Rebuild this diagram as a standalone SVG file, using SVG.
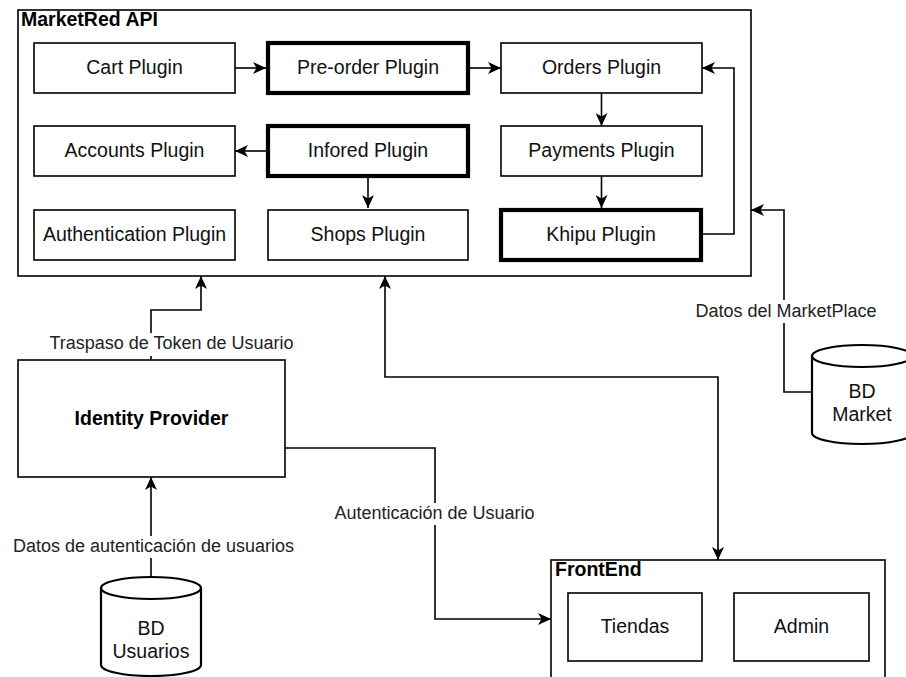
<svg xmlns="http://www.w3.org/2000/svg" width="906" height="677" viewBox="0 0 906 677">
<style>
.box{fill:#fff;stroke:#000;stroke-width:1.6}
.thick{fill:#fff;stroke:#000;stroke-width:4.2}
.cyl{fill:#fff;stroke:#000;stroke-width:2.2}
.t{font-family:"Liberation Sans",Arial,sans-serif;font-size:19.5px;fill:#111;text-anchor:middle}
.b{font-family:"Liberation Sans",Arial,sans-serif;font-size:19.5px;font-weight:bold;fill:#000}
.lbl{font-family:"Liberation Sans",Arial,sans-serif;font-size:18px;fill:#222;text-anchor:middle}
.edge{fill:none;stroke:#000;stroke-width:1.6}
.bg{fill:#fff;stroke:none}
</style>
<defs>
<marker id="arr" markerUnits="userSpaceOnUse" markerWidth="14" markerHeight="12" refX="13" refY="6" orient="auto-start-reverse">
<path d="M0,0 L13,6 L0,12 L3.5,6 Z" fill="#000"/>
</marker>
</defs>

<g id="marketred-api">
<rect class="box" x="18" y="10" width="733" height="266"/>
<text class="b" x="21" y="26">MarketRed API</text>
</g>

<g id="cart-plugin"><rect class="box" x="34" y="43" width="201" height="50"/><text class="t" x="134.5" y="74">Cart Plugin</text></g>
<g id="preorder-plugin"><rect class="thick" x="268" y="43" width="200" height="50"/><text class="t" x="368" y="74">Pre-order Plugin</text></g>
<g id="orders-plugin"><rect class="box" x="501" y="43" width="201" height="50"/><text class="t" x="601.5" y="74">Orders Plugin</text></g>
<g id="accounts-plugin"><rect class="box" x="34" y="126" width="201" height="50"/><text class="t" x="134.5" y="157">Accounts Plugin</text></g>
<g id="infored-plugin"><rect class="thick" x="268" y="126" width="200" height="50"/><text class="t" x="368" y="157">Infored Plugin</text></g>
<g id="payments-plugin"><rect class="box" x="501" y="126" width="201" height="50"/><text class="t" x="601.5" y="157">Payments Plugin</text></g>
<g id="authentication-plugin"><rect class="box" x="34" y="210" width="201" height="50"/><text class="t" x="134.5" y="241">Authentication Plugin</text></g>
<g id="shops-plugin"><rect class="box" x="268" y="210" width="200" height="50"/><text class="t" x="368" y="241">Shops Plugin</text></g>
<g id="khipu-plugin"><rect class="thick" x="501" y="210" width="200" height="50"/><text class="t" x="601" y="241">Khipu Plugin</text></g>

<g id="identity-provider"><rect class="box" x="18" y="360" width="267" height="117"/><text class="b" x="151.5" y="425" text-anchor="middle">Identity Provider</text></g>

<g id="bd-usuarios">
<path class="cyl" d="M101,588 A50,11 0 0 1 201,588 L201,665 A50,11 0 0 1 101,665 Z"/>
<path class="cyl" d="M101,588 A50,11 0 0 0 201,588"/>
<text class="t" x="151" y="635">BD</text>
<text class="t" x="151" y="658">Usuarios</text>
</g>

<g id="bd-market">
<path class="cyl" d="M812,356 A50,11 0 0 1 912,356 L912,433 A50,11 0 0 1 812,433 Z"/>
<path class="cyl" d="M812,356 A50,11 0 0 0 912,356"/>
<text class="t" x="862" y="398">BD</text>
<text class="t" x="862" y="421">Market</text>
</g>

<g id="frontend">
<rect class="box" x="551" y="560" width="334" height="130"/>
<text class="b" x="555" y="576">FrontEnd</text>
</g>
<g id="tiendas"><rect class="box" x="568" y="593" width="134" height="68"/><text class="t" x="635" y="633">Tiendas</text></g>
<g id="admin"><rect class="box" x="734" y="593" width="135" height="68"/><text class="t" x="801.5" y="633">Admin</text></g>

<g id="connectors">
<path class="edge" marker-end="url(#arr)" d="M235,68 L266,68"/>
<path class="edge" marker-end="url(#arr)" d="M470,68 L501,68"/>
<path class="edge" marker-end="url(#arr)" d="M266,151 L235,151"/>
<path class="edge" marker-end="url(#arr)" d="M368,178 L368,208"/>
<path class="edge" marker-end="url(#arr)" d="M601.5,93 L601.5,126"/>
<path class="edge" marker-end="url(#arr)" d="M601.5,176 L601.5,208"/>
<path class="edge" marker-end="url(#arr)" d="M703,234 L734,234 L734,68 L702,68"/>

<path class="edge" marker-end="url(#arr)" d="M151,360 L151,310 L201,310 L201,276"/>
<rect class="bg" x="46" y="333" width="251" height="23"/>
<text class="lbl" x="171.5" y="349">Traspaso de Token de Usuario</text>

<path class="edge" marker-end="url(#arr)" d="M151,577 L151,477"/>
<rect class="bg" x="10" y="536" width="287" height="22"/>
<text class="lbl" x="153.5" y="552">Datos de autenticación de usuarios</text>

<path class="edge" marker-end="url(#arr)" d="M285,448 L435,448 L435,619 L551,619"/>
<rect class="bg" x="331" y="503" width="207" height="22"/>
<text class="lbl" x="434.5" y="519">Autenticación de Usuario</text>

<path class="edge" marker-end="url(#arr)" d="M812,392 L784,392 L784,210 L751,210"/>
<rect class="bg" x="693" y="300" width="186" height="23"/>
<text class="lbl" x="786" y="317">Datos del MarketPlace</text>

<path class="edge" marker-start="url(#arr)" marker-end="url(#arr)" d="M385,276 L385,377 L718,377 L718,560"/>
</g>
</svg>
